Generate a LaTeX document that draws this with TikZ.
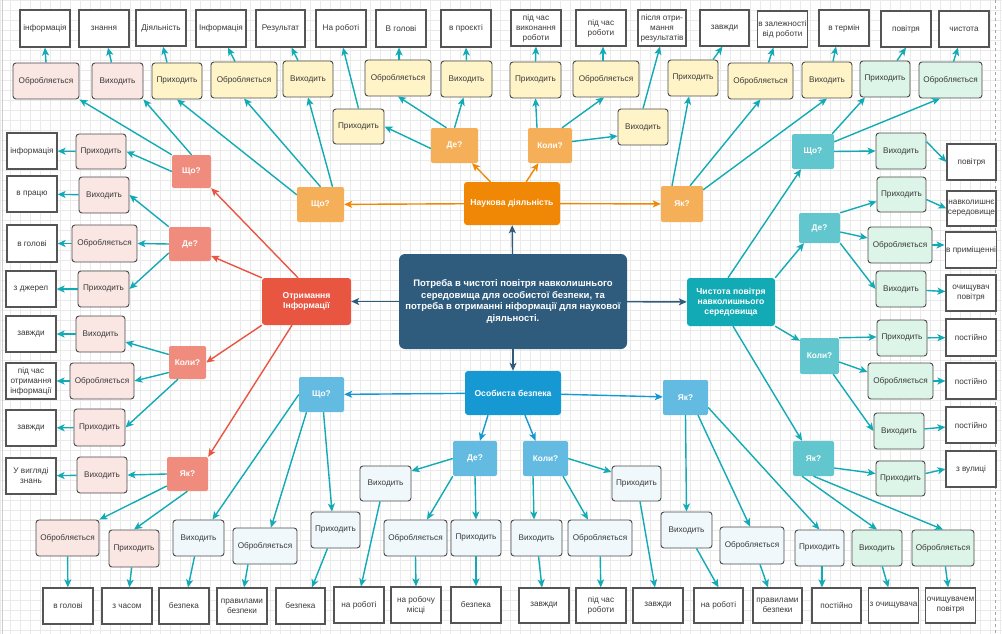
\documentclass[tikz,border=0pt]{standalone}
\usepackage{fontspec}
\setmainfont{Liberation Sans}
\usetikzlibrary{arrows.meta}
\definecolor{tealc}{HTML}{12AAB5}
\definecolor{orD}{HTML}{F08705}
\definecolor{orL}{HTML}{F5AF58}
\definecolor{redD}{HTML}{E85642}
\definecolor{redL}{HTML}{F08C7E}
\definecolor{bluD}{HTML}{1699D3}
\definecolor{bluL}{HTML}{64BBE2}
\definecolor{grnD}{HTML}{12AAB5}
\definecolor{grnL}{HTML}{61C6CE}
\definecolor{mainc}{HTML}{2F5B7C}
\definecolor{pinkf}{HTML}{FAE6E3}
\definecolor{yelf}{HTML}{FFF4C8}
\definecolor{grnf}{HTML}{DDF4E8}
\definecolor{bluf}{HTML}{F0F8FB}
\definecolor{bord}{HTML}{4A4A4A}
\definecolor{valb}{HTML}{555555}
\definecolor{txt}{HTML}{3A3A3A}
\definecolor{gridc}{HTML}{EAEAEA}
\newcommand{\mybox}[7]{\node[#1, minimum width={(#5-#3)*1pt}, minimum height={(#6-#4)*1pt}] (#2) at ({(#3+#5)/2},{(#4+#6)/2}) {#7};}
\tikzset{
 base/.style={inner sep=1pt, align=center, font=\fontsize{8.2}{10}\selectfont, text=txt},
 verb/.style={base, draw=bord, line width=0.9pt, rounded corners=3pt},
 vP/.style={verb, fill=pinkf}, vY/.style={verb, fill=yelf}, vG/.style={verb, fill=grnf}, vB/.style={verb, fill=bluf},
 val/.style={base, draw=valb, line width=1.2pt, fill=white},
 qq/.style={inner sep=1pt, rounded corners=2pt, text=white, font=\fontsize{8.3}{10}\selectfont\bfseries},
 qO/.style={qq, fill=orL}, qR/.style={qq, fill=redL}, qB/.style={qq, fill=bluL}, qG/.style={qq, fill=grnL},
 br/.style={inner sep=1pt, align=center, rounded corners=3pt, text=white, font=\fontsize{8.6}{10.2}\selectfont\bfseries},
 brO/.style={br, fill=orD}, brR/.style={br, fill=redD}, brB/.style={br, fill=bluD}, brG/.style={br, fill=grnD},
 mainN/.style={br, fill=mainc, font=\fontsize{9.5}{11.6}\selectfont\bfseries, rounded corners=6pt},
 tl/.style={draw=tealc, line width=1.4pt, -{Stealth[length=8pt,width=7pt,inset=2pt]}},
 ol/.style={tl, draw=orD}, rl/.style={tl, draw=redD}, bl/.style={tl, draw=bluD}, ml/.style={tl, draw=mainc},
}
\begin{document}
\begin{tikzpicture}[x=1pt,y=-1pt]
\useasboundingbox (0,0) rectangle (1002,634);
\fill[white] (0,0) rectangle (1002,634);
\foreach \i in {0,10,...,1000} \draw[gridc, line width=0.5pt] (\i,0) -- (\i,634);
\foreach \j in {0,10,...,630} \draw[gridc, line width=0.5pt] (0,\j) -- (1002,\j);
\draw[black!35, dashed, line width=0.7pt] (995,0) -- (995,634);
\draw[black!20, line width=0.7pt] (2,0) -- (2,634);

% main and branches
\mybox{mainN}{main}{399}{254}{627}{349}{Потреба в чистоті повітря навколишнього\\середовища для особистої безпеки, та\\потреба в отриманні ніформації для наукової\\діяльності.}
\mybox{brO}{nauk}{464}{182}{560}{225}{Наукова діяльність}
\mybox{brR}{otr}{262}{278}{351}{325}{Отримання\\Інформації}
\mybox{brG}{chys}{687}{278}{775}{326}{Чистота повітря\\навколишнього\\середовища}
\mybox{brB}{osob}{465}{371}{561}{415}{Особиста безпека}

% question nodes
\mybox{qO}{oQ1}{297}{187}{344}{222}{Що?}
\mybox{qO}{oQ2}{431}{128}{478}{163}{Де?}
\mybox{qO}{oQ3}{528}{128}{572}{163}{Коли?}
\mybox{qO}{oQ4}{661}{186}{703}{222}{Як?}
\mybox{qR}{rQ1}{172}{155}{211}{188}{Що?}
\mybox{qR}{rQ2}{169}{227}{211}{261}{Де?}
\mybox{qR}{rQ3}{169}{346}{206}{379}{Коли?}
\mybox{qR}{rQ4}{167}{457}{208}{491}{Як?}
\mybox{qB}{bQ1}{299}{377}{344}{412}{Що?}
\mybox{qB}{bQ2}{453}{441}{497}{476}{Де?}
\mybox{qB}{bQ3}{523}{441}{568}{476}{Коли?}
\mybox{qB}{bQ4}{663}{380}{708}{415}{Як?}
\mybox{qG}{gQ1}{792}{134}{834}{169}{Що?}
\mybox{qG}{gQ2}{799}{213}{840}{243}{Де?}
\mybox{qG}{gQ3}{800}{338}{839}{374}{Коли?}
\mybox{qG}{gQ4}{793}{441}{834}{476}{Як?}

% top values
\mybox{val}{t1}{20}{10}{70}{47}{інформація}
\mybox{val}{t2}{79}{10}{129}{47}{знання}
\mybox{val}{t3}{136}{10}{186}{46}{Діяльність}
\mybox{val}{t4}{196}{10}{246}{47}{Інформація}
\mybox{val}{t5}{256}{10}{305}{47}{Результат}
\mybox{val}{t6}{316}{10}{366}{47}{На роботі}
\mybox{val}{t7}{376}{10}{426}{47}{В голові}
\mybox{val}{t8}{441}{10}{491}{47}{в проєкті}
\mybox{val}{t9}{511}{10}{561}{46}{під час\\виконання\\роботи}
\mybox{val}{t10}{576}{10}{626}{46}{під час\\роботи}
\mybox{val}{t11}{638}{10}{686}{46}{після отри-\\мання\\результатів}
\mybox{val}{t12}{700}{10}{749}{46}{завжди}
\mybox{val}{t13}{758}{11}{807}{47}{в залежності\\від роботи}
\mybox{val}{t14}{819}{10}{869}{46}{в термін}
\mybox{val}{t15}{881}{11}{931}{47}{повітря}
\mybox{val}{t16}{939}{11}{989}{47}{чистота}

% top verbs
\mybox{vP}{v1}{13}{63}{79}{99}{Обробляється}
\mybox{vP}{v2}{92}{63}{143}{99}{Виходить}
\mybox{vY}{v3}{152}{63}{202}{99}{Приходить}
\mybox{vY}{v4}{211}{62}{277}{98}{Обробляється}
\mybox{vY}{v5}{283}{61}{333}{97}{Виходить}
\mybox{vY}{v6}{333}{109}{384}{144}{Приходить}
\mybox{vY}{v7}{365}{60}{431}{96}{Обробляється}
\mybox{vY}{v8}{441}{61}{492}{97}{Виходить}
\mybox{vY}{v9}{510}{62}{561}{98}{Приходить}
\mybox{vY}{v10}{573}{61}{639}{97}{Обробляється}
\mybox{vY}{v11}{618}{109}{668}{145}{Виходить}
\mybox{vY}{v12}{668}{60}{718}{96}{Приходить}
\mybox{vY}{v13}{728}{63}{793}{99}{Обробляється}
\mybox{vY}{v14}{802}{62}{852}{98}{Виходить}
\mybox{vG}{v15}{860}{61}{910}{97}{Приходить}
\mybox{vG}{v16}{919}{62}{982}{98}{Обробляється}

% red branch children
\mybox{vP}{rP1}{76}{134}{126}{169}{Приходить}
\mybox{val}{rI1}{7}{133}{57}{169}{інформація}
\mybox{vP}{rV2}{79}{177}{129}{213}{Виходить}
\mybox{val}{rI2}{7}{176}{57}{212}{в працю}
\mybox{vP}{rO2}{72}{225}{137}{262}{Обробляється}
\mybox{val}{rI3}{7}{225}{57}{262}{в голові}
\mybox{vP}{rP2}{78}{271}{129}{307}{Приходить}
\mybox{val}{rI4}{6}{271}{56}{307}{з джерел}
\mybox{vP}{rV3}{76}{316}{125}{352}{Виходить}
\mybox{val}{rI5}{6}{316}{56}{352}{завжди}
\mybox{vP}{rO3}{70}{363}{134}{399}{Обробляється}
\mybox{val}{rI6}{6}{363}{56}{399}{під час\\отримання\\інформації}
\mybox{vP}{rP3}{74}{409}{125}{446}{Приходить}
\mybox{val}{rI7}{6}{410}{56}{446}{завжди}
\mybox{vP}{rV4}{77}{457}{127}{493}{Виходить}
\mybox{val}{rI8}{6}{458}{56}{494}{У вигляді\\знань}
\mybox{vP}{rO4}{36}{520}{99}{556}{Обробляється}
\mybox{vP}{rP4}{109}{530}{159}{567}{Приходить}
\mybox{val}{rB1}{43}{588}{93}{624}{в голові}
\mybox{val}{rB2}{102}{588}{152}{624}{з часом}

% blue branch children
\mybox{vB}{bV1}{173}{520}{224}{556}{Виходить}
\mybox{vB}{bO1}{233}{528}{297}{564}{Обробляється}
\mybox{vB}{bP1}{311}{512}{360}{548}{Приходить}
\mybox{val}{bB1}{159}{588}{209}{624}{безпека}
\mybox{val}{bB2}{217}{588}{267}{624}{правилами\\безпеки}
\mybox{val}{bB3}{276}{588}{325}{624}{безпека}
\mybox{vB}{bV2}{360}{466}{411}{501}{Виходить}
\mybox{vB}{bO2}{384}{520}{447}{556}{Обробляється}
\mybox{vB}{bP2}{451}{520}{501}{556}{Приходить}
\mybox{val}{bB4}{334}{587}{384}{623}{на роботі}
\mybox{val}{bB5}{391}{587}{441}{623}{на робочу\\місці}
\mybox{val}{bB6}{451}{587}{501}{623}{безпека}
\mybox{vB}{cV}{511}{520}{562}{556}{Виходить}
\mybox{vB}{cO}{568}{520}{632}{556}{Обробляється}
\mybox{vB}{cP}{612}{466}{661}{501}{Приходить}
\mybox{val}{cB1}{519}{588}{569}{623}{завжди}
\mybox{val}{cB2}{576}{588}{626}{623}{під час\\роботи}
\mybox{val}{cB3}{633}{588}{683}{623}{завжди}
\mybox{vB}{dV}{661}{512}{712}{548}{Виходить}
\mybox{vB}{dO}{720}{527}{784}{564}{Обробляється}
\mybox{vB}{dP}{795}{530}{844}{566}{Приходить}
\mybox{val}{dB1}{694}{588}{743}{623}{на роботі}
\mybox{val}{dB2}{753}{588}{802}{623}{правилами\\безпеки}
\mybox{val}{dB3}{812}{588}{861}{623}{постійно}

% teal branch children
\mybox{vG}{gV1}{876}{133}{926}{169}{Виходить}
\mybox{val}{gI1}{947}{144}{996}{180}{повітря}
\mybox{vG}{gP2}{877}{177}{926}{212}{Приходить}
\mybox{val}{gI2}{947}{191}{996}{226}{навколишнє\\середовище}
\mybox{vG}{gO2}{868}{227}{932}{263}{Обробляється}
\mybox{val}{gI3}{946}{232}{996}{268}{в приміщенні}
\mybox{vG}{gV2}{876}{271}{926}{307}{Виходить}
\mybox{val}{gI4}{946}{275}{996}{311}{очищувач\\повітря}
\mybox{vG}{gP3}{877}{320}{927}{356}{Приходить}
\mybox{val}{gI5}{946}{319}{996}{356}{постійно}
\mybox{vG}{gO3}{868}{363}{933}{399}{Обробляється}
\mybox{val}{gI6}{946}{363}{996}{399}{постійно}
\mybox{vG}{gV3}{874}{413}{924}{449}{Виходить}
\mybox{val}{gI7}{946}{407}{996}{443}{постійно}
\mybox{vG}{gP4}{876}{461}{925}{496}{Приходить}
\mybox{val}{gI8}{946}{451}{996}{487}{з вулиці}
\mybox{vG}{gV4}{852}{530}{902}{566}{Виходить}
\mybox{vG}{gO4}{912}{530}{974}{566}{Обробляється}
\mybox{val}{gB1}{869}{588}{918}{623}{з очищувача}
\mybox{val}{gB2}{926}{588}{975}{623}{очищувачем\\повітря}

% main connectors
\draw[ml] (main) -- (nauk);
\draw[ml] (main) -- (otr);
\draw[ml] (main) -- (chys);
\draw[ml] (main) -- (osob);
% orange
\draw[ol] (nauk) -- (oQ1);
\draw[ol] (nauk) -- (oQ4);
\draw[ol] (nauk) -- (oQ2);
\draw[ol] (nauk) -- (oQ3);
% red
\draw[rl] ([xshift=-8.5pt]otr.north) -- (rQ1.south east);
\draw[rl] (otr.north west) -- ([yshift=-12pt]rQ2.east);
\draw[rl] (otr.south west) -- (rQ3.east);
\draw[rl] ([xshift=-14.5pt]otr.south) -- (rQ4.north east);
% blue
\draw[bl] (osob) -- (bQ1);
\draw[bl] (osob) -- (bQ4);
\draw[bl] ([xshift=-25pt]osob.south) -- ([xshift=5pt]bQ2.north);
\draw[bl] ([xshift=12pt]osob.south) -- ([xshift=-10pt]bQ3.north);
% teal from chys
\draw[tl] ([xshift=-3pt]chys.north) -- ([xshift=-12pt]gQ1.south);
\draw[tl] (chys.north east) -- ([xshift=-15.5pt]gQ2.south);
\draw[tl] (chys.south east) -- ([yshift=-3pt]gQ3.north west);
\draw[tl] ([xshift=2pt]chys.south) -- ([xshift=-11.5pt]gQ4.north);

% verbs to top values
\draw[tl] (v1.north) -- (t1.south);
\draw[tl] ([xshift=-6pt]v2.north) -- ([xshift=4pt]t2.south);
\draw[tl] ([xshift=-10pt]v3.north) -- ([xshift=2pt]t3.south);
\draw[tl] ([xshift=-9pt]v4.north) -- ([xshift=7pt]t4.south);
\draw[tl] ([xshift=-10pt]v5.north) -- ([xshift=11pt]t5.south);
\draw[tl] (v6.north) -- ([xshift=2pt]t6.south);
\draw[tl] ([xshift=1pt]v7.north) -- ([xshift=-2pt]t7.south);
\draw[tl] (v8.north) -- (t8.south);
\draw[tl] (v9.north) -- (t9.south);
\draw[tl] ([xshift=-3pt]v10.north) -- ([xshift=2pt]t10.south);
\draw[tl] (v11.north) -- ([xshift=-2pt]t11.south);
\draw[tl] ([xshift=20pt]v12.north) -- ([xshift=-2pt]t12.south);
\draw[tl] ([xshift=8pt]v13.north) -- ([xshift=-9pt]t13.south);
\draw[tl] ([xshift=6pt]v14.north) -- ([xshift=-8pt]t14.south);
\draw[tl] ([xshift=12pt]v15.north) -- (t15.south);
\draw[tl] ([xshift=3pt]v16.north) -- ([xshift=-6pt]t16.south);

% orange questions to verbs
\draw[tl] ([yshift=-8pt]oQ1.north west) -- (v3.south);
\draw[tl] (oQ1.north) -- (v4.south);
\draw[tl] ([xshift=12pt]oQ1.north) -- (v5.south);
\draw[tl] ([yshift=-3pt]oQ2.west) -- (v6.east);
\draw[tl] ([xshift=-8pt]oQ2.north) -- (v7.south);
\draw[tl] (oQ2.north) -- ([xshift=-3pt]v8.south);
\draw[tl] ([xshift=-13pt]oQ3.north) -- (v9.south);
\draw[tl] ([xshift=12pt]oQ3.north) -- ([xshift=-2pt]v10.south);
\draw[tl] ([yshift=4pt]oQ3.east) -- ([yshift=-9pt]v11.west);
\draw[tl] ([xshift=-10pt]oQ4.north) -- ([xshift=-4pt]v12.south);
\draw[tl] ([xshift=8pt]oQ4.north) -- (v13.south);
\draw[tl] ([yshift=-4pt]oQ4.north east) -- (v14.south);

% red questions
\draw[tl] (rQ1.north west) -- (v1.south east);
\draw[tl] (rQ1.north) -- (v2.south east);
\draw[tl] (rQ1.west) -- (rP1.east);
\draw[tl] (rP1) -- (rI1);
\draw[tl] (rQ2.north west) -- (rV2.east);
\draw[tl] (rV2) -- (rI2);
\draw[tl] (rQ2.west) -- (rO2.east);
\draw[tl] (rO2) -- (rI3);
\draw[tl] ([yshift=-9pt]rQ2.west) -- (rP2.east);
\draw[tl] (rP2) -- (rI4);
\draw[tl] ([yshift=8pt]rQ3.west) -- ([yshift=-8pt]rV3.east);
\draw[tl] (rV3) -- (rI5);
\draw[tl] ([yshift=-10pt]rQ3.west) -- (rO3.east);
\draw[tl] (rO3) -- (rI6);
\draw[tl] ([xshift=-9.5pt]rQ3.south) -- (rP3.east);
\draw[tl] (rP3) -- (rI7);
\draw[tl] (rQ4.west) -- (rV4.east);
\draw[tl] (rV4) -- (rI8);
\draw[tl] ([yshift=-12pt]rQ4.west) -- (rO4.north east);
\draw[tl] (rQ4.south) -- (rP4.north);
\draw[tl] (rO4) -- (rB1);
\draw[tl] (rP4) -- (rB2);

% blue questions
\draw[tl] (bQ1.west) -- ([xshift=14pt]bV1.north);
\draw[tl] ([xshift=-15pt]bQ1.south) -- ([xshift=6pt]bO1.north);
\draw[tl] ([xshift=2pt]bQ1.south) -- ([xshift=-3.5pt]bP1.north);
\draw[tl] (bV1) -- (bB1);
\draw[tl] ([xshift=-17pt]bO1.south) -- ([xshift=2pt]bB2.north);
\draw[tl] ([xshift=-8pt]bP1.south) -- ([xshift=11.5pt]bB3.north);
\draw[tl] (bQ2.west) -- ([yshift=12.5pt]bV2.east);
\draw[tl] (bQ2.south west) -- ([xshift=11.5pt]bO2.north);
\draw[tl] (bQ2.south) -- (bP2.north);
\draw[tl] ([xshift=-5.5pt]bV2.south) -- ([xshift=2pt]bB4.north);
\draw[tl] (bO2.south) -- (bB5.north);
\draw[tl] (bP2) -- (bB6);
\draw[tl] ([xshift=-12.5pt]bQ3.south) -- ([xshift=-2.5pt]cV.north);
\draw[tl] ([xshift=17.5pt]bQ3.south) -- ([xshift=-12pt]cO.north);
\draw[tl] (bQ3.east) -- ([yshift=11.5pt]cP.west);
\draw[tl] (cV) -- (cB1);
\draw[tl] (cO) -- (cB2);
\draw[tl] ([xshift=3.5pt]cP.south) -- ([xshift=-3pt]cB3.north);
\draw[tl] (bQ4.south) -- (dV.north);
\draw[tl] ([xshift=12.5pt]bQ4.south) -- ([xshift=-2pt]dO.north);
\draw[tl] ([yshift=-10pt]bQ4.east) -- (dP.north);
\draw[tl] ([xshift=10pt]dV.south) -- (dB1.north);
\draw[tl] ([xshift=8pt]dO.south) -- ([xshift=-9.5pt]dB2.north);
\draw[tl] ([xshift=2.5pt]dP.south) -- ([xshift=-14.5pt]dB3.north);

% teal questions
\draw[tl] ([xshift=-2pt]gQ1.north east) -- ([xshift=-20pt]v15.south);
\draw[tl] ([yshift=-8pt]gQ1.north east) -- ([xshift=-10.5pt]v16.south);
\draw[tl] (gQ1.east) -- (gV1.west);
\draw[tl] ([yshift=-9pt]gV1.north east) -- (gI1.west);
\draw[tl] (gQ2.north east) -- ([yshift=-7pt]gP2.west);
\draw[tl] ([yshift=-5pt]gP2.east) -- (gI2.west);
\draw[tl] ([yshift=-4pt]gQ2.east) -- ([yshift=7pt]gO2.west);
\draw[tl] (gO2.east) -- ([yshift=5pt]gI3.west);
\draw[tl] (gQ2.south east) -- (gV2.west);
\draw[tl] (gV2) -- (gI4);
\draw[tl] (gQ3.north east) -- ([yshift=1pt]gP3.west);
\draw[tl] (gP3) -- (gI5);
\draw[tl] ([yshift=-6pt]gQ3.east) -- ([yshift=9pt]gO3.west);
\draw[tl] (gO3) -- (gI6);
\draw[tl] ([xshift=-6pt]gQ3.south east) -- (gV3.west);
\draw[tl] (gV3) -- (gI7);
\draw[tl] ([yshift=-9.5pt]gQ4.east) -- ([yshift=5pt]gP4.west);
\draw[tl] ([yshift=5pt]gP4.east) -- (gI8.west);
\draw[tl] ([xshift=-11.5pt]gQ4.south) -- (gV4.north);
\draw[tl] (gQ4.south) -- (gO4.north);
\draw[tl] (gV4) -- (gB1);
\draw[tl] (gO4) -- (gB2);
\end{tikzpicture}
\end{document}
